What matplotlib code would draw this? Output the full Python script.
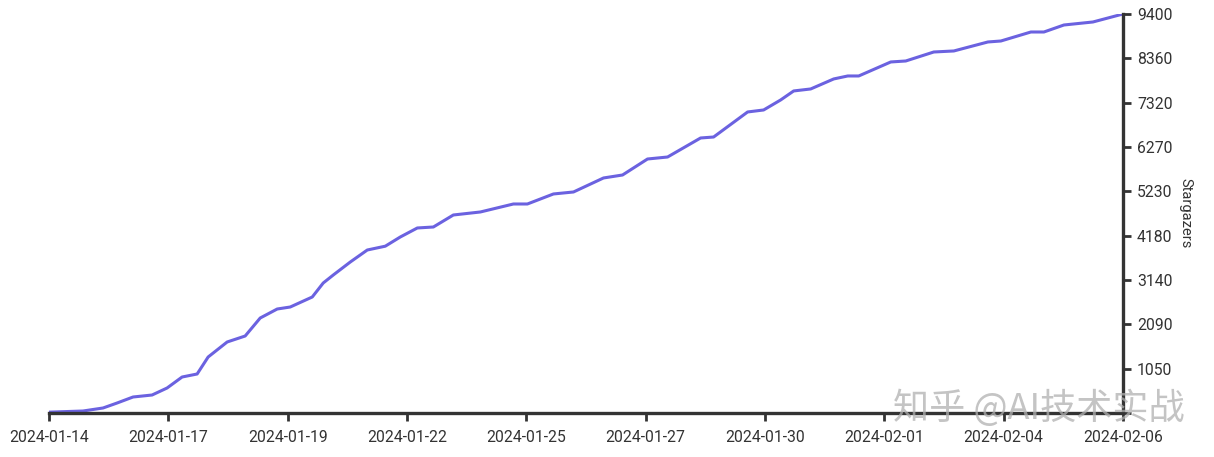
import numpy as np
import pandas as pd
import matplotlib
matplotlib.use("Agg")
import matplotlib.pyplot as plt
import matplotlib.dates as mdates

# star history
times = [
    "2024-01-14 20:00", "2024-01-15 13:28", "2024-01-15 23:45", "2024-01-16 06:56",
    "2024-01-16 15:10", "2024-01-17 00:56", "2024-01-17 08:38", "2024-01-17 16:21",
    "2024-01-18 00:04", "2024-01-18 05:43", "2024-01-18 15:29", "2024-01-19 00:44",
    "2024-01-19 08:27", "2024-01-19 17:11", "2024-01-19 23:52", "2024-01-20 11:11",
    "2024-01-20 16:49", "2024-01-20 21:58", "2024-01-21 06:42", "2024-01-21 15:26",
    "2024-01-22 00:41", "2024-01-22 08:24", "2024-01-22 17:08", "2024-01-23 01:22",
    "2024-01-23 11:38", "2024-01-24 01:31", "2024-01-24 18:28", "2024-01-25 01:39",
    "2024-01-25 15:01", "2024-01-26 01:19", "2024-01-26 16:44", "2024-01-27 02:30",
    "2024-01-27 15:20", "2024-01-28 01:38", "2024-01-28 18:35", "2024-01-29 01:16",
    "2024-01-29 18:44", "2024-01-30 02:57", "2024-01-30 11:42", "2024-01-30 18:23",
    "2024-01-31 03:07", "2024-01-31 14:57", "2024-01-31 22:09", "2024-02-01 03:47",
    "2024-02-01 20:14", "2024-02-02 03:56", "2024-02-02 18:20", "2024-02-03 04:37",
    "2024-02-03 22:06", "2024-02-04 04:47", "2024-02-04 20:11", "2024-02-05 02:53",
    "2024-02-05 13:09", "2024-02-06 04:03", "2024-02-06 19:29",
]
stars = [
    20, 47, 118, 235, 377, 424, 589, 848, 919, 1319, 1673, 1814, 2238, 2450, 2497,
    2733, 3063, 3251, 3557, 3840, 3930, 4147, 4359, 4382, 4665, 4736, 4924, 4924,
    5160, 5207, 5537, 5607, 5984, 6031, 6479, 6502, 7092, 7139, 7375, 7587, 7634,
    7870, 7940, 7940, 8270, 8293, 8505, 8529, 8741, 8764, 8976, 8976, 9141, 9212, 9400,
]
y_tick_labels = ["", "1050", "2090", "3140", "4180", "5230", "6270", "7320", "8360", "9400"]
y_max = 9400

t = pd.to_datetime(times)
plt.rcParams["font.family"] = ["Roboto", "DejaVu Sans"]

fig = plt.figure(figsize=(12.14, 4.57), dpi=100)
ax = fig.add_axes([49 / 1214, 1 - 413 / 457, (1123 - 49) / 1214, (413 - 14) / 457])

ax.plot(t, stars, color="#6b62e0", lw=2.2, solid_joinstyle="round")

x0, x1 = mdates.date2num(t[0]), mdates.date2num(t[-1])
ax.set_xlim(x0, x1)
ax.set_ylim(0, y_max)
ax.set_xticks(np.linspace(x0, x1, 10))
ax.xaxis.set_major_formatter(mdates.DateFormatter("%Y-%m-%d"))
ax.set_yticks(np.linspace(0, y_max, 10))
ax.set_yticklabels(y_tick_labels)

for side in ("top", "left"):
    ax.spines[side].set_visible(False)
for side in ("bottom", "right"):
    ax.spines[side].set_color("#333333")
    ax.spines[side].set_linewidth(2.4)
ax.yaxis.tick_right()
ax.yaxis.set_label_position("right")
ax.tick_params(axis="both", colors="#333333", width=2, length=6,
               labelsize=11.3, labelcolor="#333333")
ax.tick_params(axis="y", pad=4)
ax.tick_params(axis="x", pad=6)
ax.set_ylabel("Stargazers", rotation=-90, fontsize=10.5, color="#333333", labelpad=14)
ax.set_xlabel("Time", fontsize=10.5, color="#333333", labelpad=14)

fig.text(1039 / 1214, 1 - 408 / 457, "知乎 @AI技术实战", ha="center", va="center",
         fontsize=26, color="#b0b0b0", alpha=0.75,
         family=["Noto Sans CJK SC", "DejaVu Sans"])

fig.savefig("out.png", dpi=100)
